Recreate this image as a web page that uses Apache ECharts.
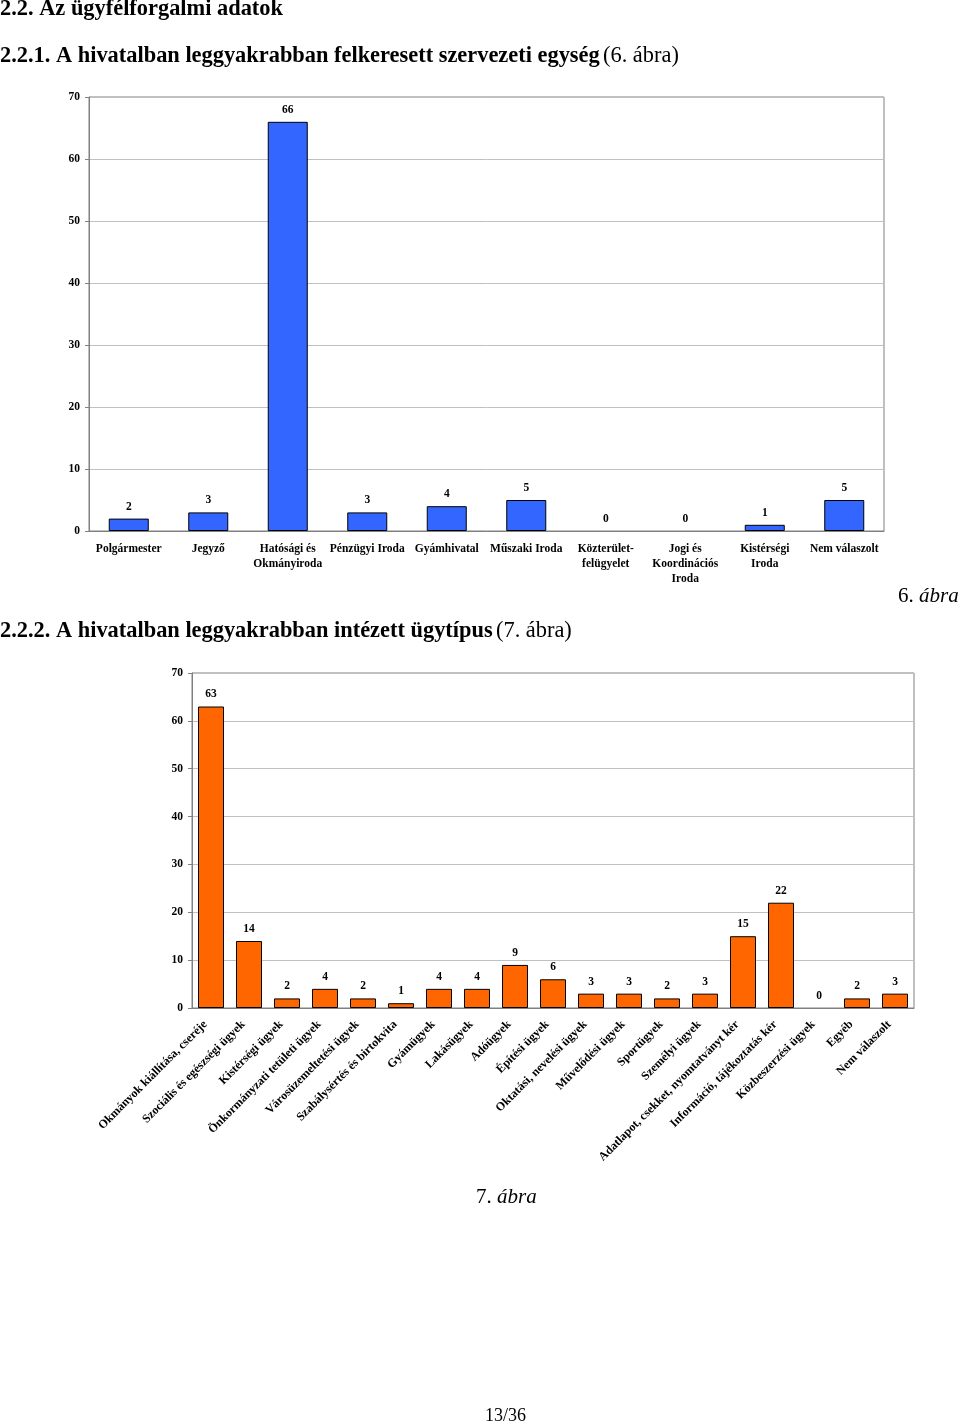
<!DOCTYPE html>
<html><head><meta charset="utf-8">
<script src="https://cdn.jsdelivr.net/npm/echarts@6/dist/echarts.min.js"></script>
<style>html,body{margin:0;padding:0;background:#fff}#c{width:960px;height:1426px}</style>
</head><body><div id="c"></div>
<script>
const units = ["Polgármester","Jegyző","Hatósági és\nOkmányiroda","Pénzügyi Iroda","Gyámhivatal","Műszaki Iroda","Közterület-\nfelügyelet","Jogi és\nKoordinációs\nIroda","Kistérségi\nIroda","Nem válaszolt"];
const unitValues = [2,3,66,3,4,5,0,0,1,5];
const types = ["Okmányok kiállítása, cseréje","Szociális és egészségi ügyek","Kistérségi ügyek","Önkormányzati tetületi ügyek","Városüzemeltetési ügyek","Szabálysértés és birtokvita","Gyámügyek","Lakásügyek","Adóügyek","Építési ügyek","Oktatási, nevelési ügyek","Művelődési ügyek","Sportügyek","Személyi ügyek","Adatlapot, csekket, nyomtatványt kér","Információ, tájékoztatás kér","Közbeszerzési ügyek","Egyéb","Nem válaszolt"];
const typeValues = [63,14,2,4,2,1,4,4,9,6,3,3,2,3,15,22,0,2,3];
const yTicks = [0,10,20,30,40,50,60,70];

const serif = '"Liberation Serif","Times New Roman",serif';
const chart = echarts.init(document.getElementById('c'), null, {renderer:'canvas'});
const axisGray = '#808080';
const gridGray = '#c0c0c0';
function yAxis(gi, margin){
  return {gridIndex:gi, type:'value', min:yTicks[0], max:yTicks[yTicks.length-1], interval:yTicks[1]-yTicks[0],
    axisLine:{show:true,lineStyle:{color:axisGray}}, axisTick:{show:true,length:4,lineStyle:{color:axisGray}},
    splitLine:{lineStyle:{color:gridGray,width:1}},
    axisLabel:{fontFamily:serif,fontWeight:'bold',fontSize:11.5,color:'#000',margin:margin}};
}
function barData(vals){
  return vals.map(v => v === 0 ? {value:v, itemStyle:{borderWidth:0}} : v);
}
chart.setOption({
  animation:false,
  textStyle:{fontFamily:serif},
  grid:[
    {left:89, top:97, width:795, height:434, show:true, borderColor:axisGray, borderWidth:1, containLabel:false},
    {left:192, top:673, width:722, height:335, show:true, borderColor:axisGray, borderWidth:1, containLabel:false}
  ],
  xAxis:[
    {gridIndex:0, type:'category', data:units,
      axisLine:{lineStyle:{color:axisGray}}, axisTick:{length:4,lineStyle:{color:axisGray}},
      axisLabel:{interval:0,fontFamily:serif,fontWeight:'bold',fontSize:11.5,color:'#000',margin:11,lineHeight:15}},
    {gridIndex:1, type:'category', data:types,
      axisLine:{lineStyle:{color:axisGray}}, axisTick:{length:4,lineStyle:{color:axisGray}},
      axisLabel:{interval:0,rotate:45,fontFamily:serif,fontWeight:'bold',fontSize:12,color:'#000',margin:9,padding:[0,8,0,0]}}
  ],
  yAxis:[yAxis(0,9), yAxis(1,9)],
  series:[
    {type:'bar', xAxisIndex:0, yAxisIndex:0, data:barData(unitValues), barWidth:40,
      itemStyle:{color:'#3366FF', borderColor:'#000', borderWidth:1},
      label:{show:true, position:'top', distance:6, fontFamily:serif, fontWeight:'bold', fontSize:11.5, color:'#000'}},
    {type:'bar', xAxisIndex:1, yAxisIndex:1, data:barData(typeValues), barWidth:26,
      itemStyle:{color:'#FF6600', borderColor:'#000', borderWidth:1},
      label:{show:true, position:'top', distance:6, fontFamily:serif, fontWeight:'bold', fontSize:11.5, color:'#000'}}
  ],
  graphic:[
    {type:'text', left:0, top:-2, style:{text:'2.2. Az ügyfélforgalmi adatok', font:'bold 22.4px '+serif, fill:'#000'}},
    {type:'text', left:0, top:45, style:{text:'{b|2.2.1. A hivatalban leggyakrabban felkeresett szervezeti egység} {n|(6. ábra)}',
      rich:{b:{font:'bold 22.4px '+serif,fill:'#000'}, n:{font:'22.4px '+serif,fill:'#000'}}}},
    {type:'text', left:898, top:586, style:{text:'{n|6. }{i|ábra}',
      rich:{n:{font:'21px '+serif,fill:'#000'}, i:{font:'italic 21px '+serif,fill:'#000'}}}},
    {type:'text', left:0, top:620, style:{text:'{b|2.2.2. A hivatalban leggyakrabban intézett ügytípus} {n|(7. ábra)}',
      rich:{b:{font:'bold 22.4px '+serif,fill:'#000'}, n:{font:'22.4px '+serif,fill:'#000'}}}},
    {type:'text', left:476, top:1187, style:{text:'{n|7. }{i|ábra}',
      rich:{n:{font:'21px '+serif,fill:'#000'}, i:{font:'italic 21px '+serif,fill:'#000'}}}},
    {type:'text', left:485, top:1407, style:{text:'13/36', font:'18px '+serif, fill:'#000'}}
  ]
});
</script></body></html>
